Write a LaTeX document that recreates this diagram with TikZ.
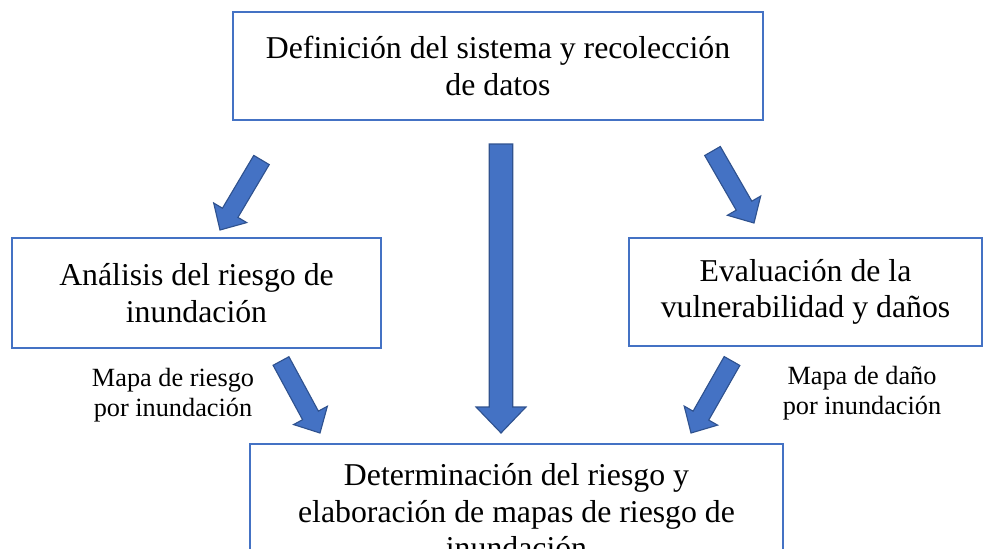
\documentclass[tikz,border=0pt]{standalone}
\usepackage{fontspec}
\setmainfont{Liberation Serif}
\usepackage{tikz}
\usetikzlibrary{calc, positioning}
\definecolor{boxblue}{HTML}{4472C4}
\definecolor{arrowedge}{HTML}{2F528F}
\tikzset{
  box/.style={draw=boxblue, line width=1.4pt, align=center, fill=white,
    font=\fontsize{22.6}{25.8}\selectfont},
  maplabel/.style={align=center, font=\fontsize{18.7}{21.5}\selectfont},
  bigarrow/.style={fill=boxblue, draw=arrowedge, line width=0.8pt, line join=miter}
}
% block arrow from tail #2 to tip #3, #1 scales the width
\newcommand{\blockarrow}[3][1]{%
  \coordinate (#2-#3) at ($(#3)!{#1*0.5cm}!(#2)$);
  \filldraw[bigarrow]
    ($(#2)!{#1*0.225cm}!90:(#3)$) -- ($(#2-#3)!{#1*0.225cm}!90:(#3)$)
    -- ($(#2-#3)!{#1*0.48cm}!90:(#3)$) -- (#3)
    -- ($(#2-#3)!{#1*0.48cm}!-90:(#3)$) -- ($(#2-#3)!{#1*0.225cm}!-90:(#3)$)
    -- ($(#2)!{#1*0.225cm}!-90:(#3)$) -- cycle;
}

\begin{document}
\begin{tikzpicture}[x=0.025cm, y=-0.025cm]
	\useasboundingbox (0,0) rectangle (984,548);
	\clip (0,0) rectangle (984,548);

	\node[box, minimum width=13.25cm, minimum height=2.7cm] (def) at (498,66) {Definición del sistema y recolección\\de datos};
	\node[box, minimum width=9.225cm, minimum height=2.75cm] (ana) at (196.5,293) {Análisis del riesgo de\\inundación};
	\node[box, minimum width=8.825cm, minimum height=2.7cm] (eva) at (805.5,292) {Evaluación de la\\vulnerabilidad y daños};
	\node[box, anchor=north, minimum width=13.325cm, inner ysep=14pt] (det) at (516.5,443) {Determinación del riesgo y\\elaboración de mapas de riesgo de\\inundación};

	\node[maplabel] (lblriesgo) at (173,395) {Mapa de riesgo\\por inundación};
	\node[maplabel] (lbldano) at (862,393) {Mapa de daño\\por inundación};

	% arrow ends
	\coordinate (t1) at (261.5,160); \coordinate (h1) at (220,230);
	\coordinate (t2) at (501,144);   \coordinate (h2) at (501,433);
	\coordinate (t3) at (712.5,151); \coordinate (h3) at (754,223);
	\coordinate (t4) at (281,361);   \coordinate (h4) at (320,433);
	\coordinate (t5) at (732,361);   \coordinate (h5) at (691,433);

	\blockarrow{t1}{h1}
	\blockarrow[1.3]{t2}{h2}
	\blockarrow{t3}{h3}
	\blockarrow{t4}{h4}
	\blockarrow{t5}{h5}
\end{tikzpicture}
\end{document}
